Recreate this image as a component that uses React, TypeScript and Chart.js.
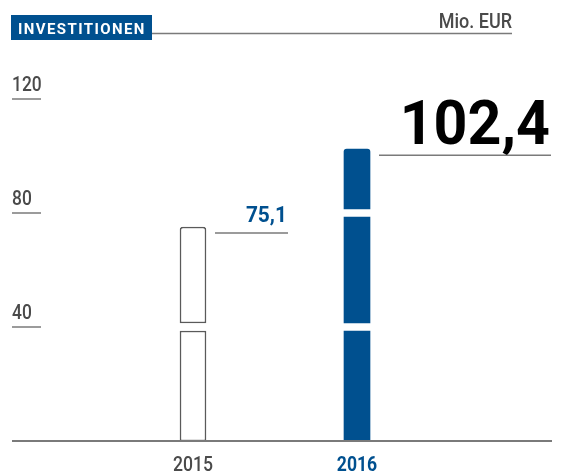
import React, { useEffect, useRef } from "react";
import { Chart, registerables } from "chart.js";

Chart.register(...registerables);

const categories = ["2015", "2016"];
const totals = [75.1, 102.4];
const valueLabels = ["75,1", "102,4"];
const tickValues = [40, 80, 120];
const segmentSize = 40;
const titleText = "INVESTITIONEN";
const unitText = "Mio. EUR";

const BLUE = "#00508f";
const GRAY_TEXT = "#4a4a4a";
const GRAY_LINE = "#7a7a7a";
const FONT = "Roboto, 'Liberation Sans', sans-serif";
const GAP = 1.4; // visual gap between segments, in value units

function buildSegments() {
  const maxSegs = Math.ceil(Math.max(...totals) / segmentSize);
  const segs: (number[] | null)[][] = [];
  for (let i = 0; i < maxSegs; i++) {
    segs.push(
      totals.map((t) => {
        const start = i * segmentSize;
        if (start >= t) return null;
        const end = Math.min((i + 1) * segmentSize, t);
        return [start + (i > 0 ? GAP : 0), end - (end < t ? GAP : 0)];
      })
    );
  }
  return segs;
}

const labelStyles = [
  { right: 288, size: 22, color: BLUE, sx: 0.95 },
  { right: 551, size: 61, color: "#000000", sx: 0.97 },
];

function text(
  ctx: CanvasRenderingContext2D,
  s: string,
  x: number,
  y: number,
  align: CanvasTextAlign,
  sx: number
) {
  ctx.save();
  ctx.translate(x, y);
  ctx.scale(sx, 1);
  ctx.textAlign = align;
  ctx.textBaseline = "alphabetic";
  ctx.fillText(s, 0, 0);
  ctx.restore();
}

export default function App() {
  const ref = useRef<HTMLCanvasElement>(null);

  useEffect(() => {
    const canvas = ref.current;
    if (!canvas) return;
    const segs = buildSegments();

    const decor = {
      id: "decor",
      afterDraw(chart: any) {
        const ctx = chart.ctx as CanvasRenderingContext2D;
        const xs = chart.scales.x;
        const ys = chart.scales.y;
        ctx.save();
        // title box
        ctx.fillStyle = BLUE;
        ctx.fillRect(11, 15, 141, 25);
        ctx.fillStyle = "#ffffff";
        ctx.font = `bold 15px ${FONT}`;
        (ctx as any).letterSpacing = "1.4px";
        text(ctx, titleText, 18, 33.5, "left", 1);
        (ctx as any).letterSpacing = "0px";
        // title line
        ctx.strokeStyle = GRAY_LINE;
        ctx.lineWidth = 1.5;
        ctx.beginPath();
        ctx.moveTo(152, 33.5);
        ctx.lineTo(512, 33.5);
        ctx.stroke();
        // unit
        ctx.fillStyle = GRAY_TEXT;
        ctx.font = `500 20px ${FONT}`;
        text(ctx, unitText, 512, 27.5, "right", 0.9);
        // y ticks
        ctx.font = `500 20px ${FONT}`;
        tickValues.forEach((v) => {
          const y = ys.getPixelForValue(v);
          ctx.beginPath();
          ctx.moveTo(12, y);
          ctx.lineTo(41, y);
          ctx.stroke();
          text(ctx, String(v), 12, y - 8, "left", 0.87);
        });
        // baseline
        const y0 = ys.getPixelForValue(0);
        ctx.lineWidth = 2;
        ctx.beginPath();
        ctx.moveTo(12, y0);
        ctx.lineTo(552, y0);
        ctx.stroke();
        // x labels
        categories.forEach((c, i) => {
          const last = i === categories.length - 1;
          ctx.font = `${last ? "bold" : "500"} 20px ${FONT}`;
          ctx.fillStyle = last ? BLUE : GRAY_TEXT;
          text(ctx, c, xs.getPixelForValue(i), 471, "center", 0.88);
        });
        // value labels with leader lines
        ctx.lineWidth = 1.5;
        totals.forEach((t, i) => {
          const top = ys.getPixelForValue(t);
          const barRight = xs.getPixelForValue(i) + 13;
          const st = labelStyles[i];
          ctx.strokeStyle = GRAY_LINE;
          ctx.beginPath();
          ctx.moveTo(barRight + 9, top + 6);
          ctx.lineTo(st.right, top + 6);
          ctx.stroke();
          ctx.fillStyle = st.color;
          ctx.font = `bold ${st.size}px ${FONT}`;
          text(ctx, valueLabels[i], st.right - 1, top - 5, "right", st.sx);
        });
        ctx.restore();
      },
    };

    const chart = new Chart(canvas, {
      type: "bar",
      data: {
        labels: categories,
        datasets: segs.map((data) => ({
          data: data as any,
          backgroundColor: categories.map((_, i) => (i === 0 ? "#ffffff" : BLUE)),
          borderColor: categories.map((_, i) => (i === 0 ? "#5a5a5a" : BLUE)),
          borderWidth: categories.map((_, i) => (i === 0 ? 1.5 : 0)),
          borderSkipped: false,
          borderRadius: (ctx: any) => {
            const v = ctx.raw as number[] | null;
            if (!v) return 0;
            const isTop = v[1] >= totals[ctx.dataIndex] - 1e-9;
            return isTop
              ? { topLeft: 3, topRight: 3, bottomLeft: 0, bottomRight: 0 }
              : 0;
          },
          barThickness: 26,
        })),
      },
      options: {
        responsive: false,
        animation: false,
        layout: { padding: { top: 99, bottom: 32, left: 111, right: 123 } },
        plugins: { legend: { display: false }, tooltip: { enabled: false } },
        scales: {
          x: { display: false, stacked: true, offset: true },
          y: { display: false, stacked: false, min: 0, max: 120 },
        },
      },
      plugins: [decor],
    });
    return () => chart.destroy();
  }, []);

  return (
    <div style={{ position: "fixed", left: 0, top: 0, width: 562, height: 473, background: "#fff" }}>
      <canvas ref={ref} width={562} height={473} style={{ display: "block" }} />
    </div>
  );
}
